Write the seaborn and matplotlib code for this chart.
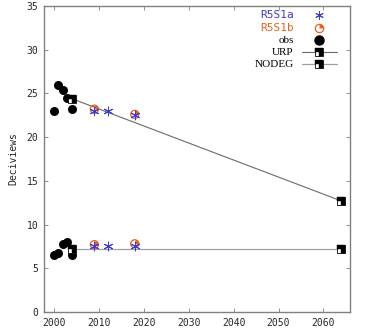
import matplotlib
matplotlib.use("Agg")
import numpy as np
import pandas as pd
import seaborn as sns
import matplotlib.pyplot as plt
from matplotlib.path import Path
from matplotlib.lines import Line2D
from matplotlib.legend_handler import HandlerTuple

# ---- data ----
obs_years = [2000, 2001, 2002, 2003, 2004]
obs_worst = [23.0, 26.0, 25.4, 24.5, 23.2]
obs_best = [6.5, 6.8, 7.8, 8.0, 6.5]

r5s1a_years = [2009, 2012, 2018]
r5s1a_worst = [23.0, 23.0, 22.5]
r5s1a_best = [7.5, 7.5, 7.6]

r5s1b_years = [2009, 2018]
r5s1b_worst = [23.2, 22.6]
r5s1b_best = [7.7, 7.8]

urp_years = [2004, 2064]
urp_values = [24.4, 12.7]
nodeg_years = [2004, 2064]
nodeg_values = [7.2, 7.2]

x_ticks = [2000, 2010, 2020, 2030, 2040, 2050, 2060]
y_ticks = [0, 5, 10, 15, 20, 25, 30, 35]

# ---- style ----
sns.set_style("ticks")
plt.rcParams["font.family"] = ["DejaVu Sans Mono", "DejaVu Sans"]

fig = plt.figure(figsize=(3.65, 3.29), dpi=100)
ax = fig.add_axes([44 / 365, 1 - 312 / 329, (350 - 44) / 365, (312 - 6) / 329])

# custom markers
L_shape = Path([(-1, 0), (-1, 1), (1, 1), (1, -1), (0, -1), (0, 0), (-1, 0)],
               [Path.MOVETO] + [Path.LINETO] * 5 + [Path.CLOSEPOLY])
wedge = Path.wedge(0, 90)
ast = (6, 2, 0)

blue = "#3a3ad6"
orange = "#e8601c"
urp_col = "#6a6a6a"
nodeg_col = "#a0a0a0"

df_obs = pd.DataFrame({"year": obs_years * 2, "dv": obs_worst + obs_best})
df_a = pd.DataFrame({"year": r5s1a_years * 2, "dv": r5s1a_worst + r5s1a_best})
df_b = pd.DataFrame({"year": r5s1b_years * 2, "dv": r5s1b_worst + r5s1b_best})
df_urp = pd.DataFrame({"year": urp_years, "dv": urp_values})
df_nd = pd.DataFrame({"year": nodeg_years, "dv": nodeg_values})

# lines
sns.lineplot(data=df_urp, x="year", y="dv", color=urp_col, lw=0.8, ax=ax, legend=False)
sns.lineplot(data=df_nd, x="year", y="dv", color=nodeg_col, lw=0.9, ax=ax, legend=False)

# obs
sns.scatterplot(data=df_obs, x="year", y="dv", color="black", s=42, marker="o",
                edgecolor="black", linewidth=0, ax=ax, legend=False, zorder=3)

# square markers on lines
for d in (df_urp, df_nd):
    sns.scatterplot(data=d, x="year", y="dv", marker="s", s=36, color="white",
                    edgecolor="black", linewidth=0.6, ax=ax, legend=False, zorder=4)
    sns.scatterplot(data=d, x="year", y="dv", marker=L_shape, s=36, color="black",
                    edgecolor="black", linewidth=0.3, ax=ax, legend=False, zorder=5)

# R5S1b
sns.scatterplot(data=df_b, x="year", y="dv", marker="o", s=34, facecolor="none",
                edgecolor=orange, linewidth=0.9, ax=ax, legend=False, zorder=4)
sns.scatterplot(data=df_b, x="year", y="dv", marker=wedge, s=34, color=orange,
                edgecolor=orange, linewidth=0, ax=ax, legend=False, zorder=4)
# R5S1a
sns.scatterplot(data=df_a, x="year", y="dv", marker=ast, s=40, color=blue,
                edgecolor=blue, linewidth=0.7, ax=ax, legend=False, zorder=5)

# axes
ax.set_xlim(1997.8, 2065.9)
ax.set_ylim(0, 35)
ax.set_xticks(x_ticks)
ax.set_yticks(y_ticks)
ax.set_xlabel("")
ax.set_ylabel("Deciviews", fontsize=7, labelpad=6)
ax.tick_params(direction="in", length=3, width=0.6, color="#808080", labelsize=7,
               top=True, right=True, pad=4)
for sp in ax.spines.values():
    sp.set_visible(True)
    sp.set_color("#808080")
    sp.set_linewidth(1.0)

# legend
h_a = Line2D([], [], ls="none", marker=ast, color=blue, ms=6, mew=0.7)
h_b = (Line2D([], [], ls="none", marker="o", mfc="none", mec=orange, ms=6, mew=0.9),
       Line2D([], [], ls="none", marker=wedge, color=orange, ms=6, mew=0))
h_o = Line2D([], [], ls="none", marker="o", color="black", ms=6.5)
h_u = (Line2D([], [], color=urp_col, lw=0.8),
       Line2D([], [], ls="none", marker="s", mfc="white", mec="black", ms=6, mew=0.6),
       Line2D([], [], ls="none", marker=L_shape, color="black", ms=6, mew=0.3))
h_n = (Line2D([], [], color=nodeg_col, lw=0.9),
       Line2D([], [], ls="none", marker="s", mfc="white", mec="black", ms=6, mew=0.6),
       Line2D([], [], ls="none", marker=L_shape, color="black", ms=6, mew=0.3))
leg = ax.legend([h_a, h_b, h_o, h_u, h_n], ["R5S1a", "R5S1b", "obs", "URP", "NODEG"],
                handler_map={tuple: HandlerTuple(ndivide=1, pad=0)},
                loc="upper right", bbox_to_anchor=(0.975, 1.005), frameon=False,
                markerfirst=False, fontsize=7, handlelength=3.6, handletextpad=0.8,
                labelspacing=0.3, borderaxespad=0.2)
cols = [blue, orange, "black", "black", "black"]
fams = ["DejaVu Sans Mono", "DejaVu Sans Mono", "Liberation Serif", "Liberation Serif", "Liberation Serif"]
for t, c, f in zip(leg.get_texts(), cols, fams):
    t.set_color(c)
    t.set_family(f)
    t.set_fontsize(8)

fig.savefig("out.png", dpi=100)
